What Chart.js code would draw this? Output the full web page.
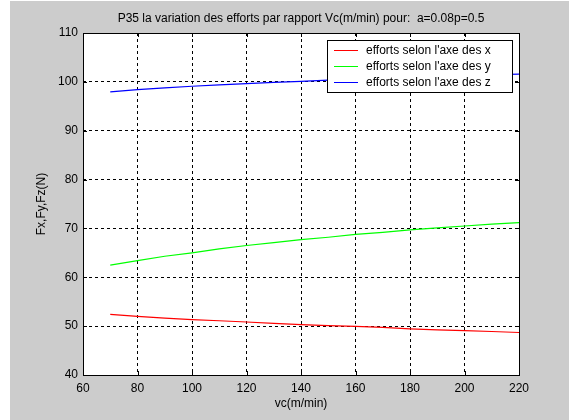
<!DOCTYPE html>
<html>
<head>
<meta charset="utf-8">
<script src="https://cdn.jsdelivr.net/npm/chart.js@4/dist/chart.umd.min.js"></script>
<style>
  html, body { margin: 0; padding: 0; background: #ffffff; }
  canvas { display: block; }
</style>
</head>
<body>
<canvas id="effortsChart" width="569" height="420"></canvas>
<script>
// Vc (m/min) sample points
const vc = [70, 80, 90, 100, 110, 120, 130, 140, 150, 160, 170, 180, 190, 200, 210, 220];

// efforts (N)
const fx = [52.4, 52.0, 51.65, 51.35, 51.1, 50.85, 50.55, 50.3, 50.1, 49.95, 49.75, 49.45, 49.25, 49.1, 48.9, 48.7];
const fy = [62.5, 63.4, 64.3, 65.0, 65.8, 66.5, 67.1, 67.7, 68.2, 68.8, 69.2, 69.7, 70.1, 70.5, 70.9, 71.2];
const fz = [97.95, 98.4, 98.75, 99.1, 99.4, 99.65, 99.9, 100.1, 100.35, 100.55, 100.75, 100.9, 101.1, 101.25, 101.45, 101.6];

const seriesLabels = ["efforts selon l'axe des x", "efforts selon l'axe des y", "efforts selon l'axe des z"];
const seriesColors = ['#ff0000', '#00ff00', '#0000ff'];

const titleText = 'P35 la variation des efforts par rapport Vc(m/min) pour:  a=0.08p=0.5';
const xTitle = 'vc(m/min)';
const yTitle = 'Fx,Fy,Fz(N)';

const FONT = '12px "Liberation Sans", Arial, sans-serif';

function points(ys) {
    return vc.map((v, i) => ({ x: v, y: ys[i] }));
}

// gray figure, white axes, frame, ticks, titles and legend (matlab look)
const matlabLook = {
    id: 'matlabLook',
    beforeDraw(chart) {
        const ctx = chart.ctx;
        const a = chart.chartArea;
        ctx.save();
        ctx.fillStyle = '#ffffff';
        ctx.fillRect(0, 0, chart.width, chart.height);
        ctx.fillStyle = '#cccccc';
        ctx.fillRect(10, 1, chart.width - 10, chart.height - 1);
        ctx.fillStyle = '#ffffff';
        ctx.fillRect(a.left, a.top, a.right - a.left, a.bottom - a.top);
        ctx.restore();
    },
    afterDraw(chart) {
        const ctx = chart.ctx;
        const a = chart.chartArea;
        const xs = chart.scales.x;
        const ys = chart.scales.y;
        ctx.save();

        // frame
        ctx.strokeStyle = '#000000';
        ctx.lineWidth = 1;
        ctx.setLineDash([]);
        ctx.strokeRect(Math.round(a.left) + 0.5, Math.round(a.top) + 0.5,
            Math.round(a.right - a.left), Math.round(a.bottom - a.top));

        // inward ticks
        ctx.beginPath();
        xs.ticks.forEach(t => {
            const px = Math.round(xs.getPixelForValue(t.value)) + 0.5;
            ctx.moveTo(px, a.bottom); ctx.lineTo(px, a.bottom - 4);
            ctx.moveTo(px, a.top); ctx.lineTo(px, a.top + 4);
        });
        ys.ticks.forEach(t => {
            const py = Math.round(ys.getPixelForValue(t.value)) + 0.5;
            ctx.moveTo(a.left, py); ctx.lineTo(a.left + 4, py);
            ctx.moveTo(a.right, py); ctx.lineTo(a.right - 4, py);
        });
        ctx.stroke();

        // titles
        ctx.fillStyle = '#000000';
        ctx.font = FONT;
        ctx.textAlign = 'center';
        ctx.textBaseline = 'middle';
        const cx = (a.left + a.right) / 2;
        ctx.fillText(titleText, cx, 19);
        ctx.fillText(xTitle, cx, 404);
        ctx.save();
        ctx.translate(42, (a.top + a.bottom) / 2);
        ctx.rotate(-Math.PI / 2);
        ctx.fillText(yTitle, 0, 0);
        ctx.restore();

        // legend box
        const lx = 327, ly = 40, lw = 185, lh = 52;
        ctx.fillStyle = '#ffffff';
        ctx.fillRect(lx, ly, lw, lh);
        ctx.strokeStyle = '#000000';
        ctx.strokeRect(lx + 0.5, ly + 0.5, lw, lh);
        ctx.textAlign = 'left';
        chart.data.datasets.forEach((ds, i) => {
            const y = ly + 10 + i * 16;
            ctx.strokeStyle = ds.borderColor;
            ctx.beginPath();
            ctx.moveTo(lx + 7, y + 0.5);
            ctx.lineTo(lx + 31, y + 0.5);
            ctx.stroke();
            ctx.fillStyle = '#000000';
            ctx.fillText(ds.label, lx + 39, y + 1);
        });
        ctx.restore();
    }
};

const chartConfig = {
    type: 'line',
    data: {
        datasets: seriesLabels.map((label, i) => ({
            label: label,
            data: points([fx, fy, fz][i]),
            borderColor: seriesColors[i],
            backgroundColor: seriesColors[i],
            borderWidth: 1.2,
            pointRadius: 0,
            tension: 0,
            fill: false
        }))
    },
    options: {
        responsive: false,
        animation: false,
        events: [],
        layout: { padding: { left: 0, top: 33, right: 50, bottom: 0 } },
        plugins: {
            legend: { display: false },
            title: { display: false },
            tooltip: { enabled: false }
        },
        scales: {
            x: {
                type: 'linear',
                min: 60,
                max: 220,
                afterFit: (scale) => { scale.height = 45; },
                ticks: {
                    stepSize: 20,
                    padding: 6,
                    color: '#000000',
                    font: { family: '"Liberation Sans", Arial, sans-serif', size: 12 },
                    maxRotation: 0
                },
                grid: { color: '#000000', lineWidth: 1, drawTicks: false },
                border: { display: false, dash: [3, 3] }
            },
            y: {
                type: 'linear',
                min: 40,
                max: 110,
                afterFit: (scale) => { scale.width = 83; },
                ticks: {
                    stepSize: 10,
                    padding: 5,
                    color: '#000000',
                    font: { family: '"Liberation Sans", Arial, sans-serif', size: 12 }
                },
                grid: { color: '#000000', lineWidth: 1, drawTicks: false },
                border: { display: false, dash: [3, 3] }
            }
        }
    },
    plugins: [matlabLook]
};

const ctx = document.getElementById('effortsChart');
const effortsChart = new Chart(ctx, chartConfig);
</script>
</body>
</html>
